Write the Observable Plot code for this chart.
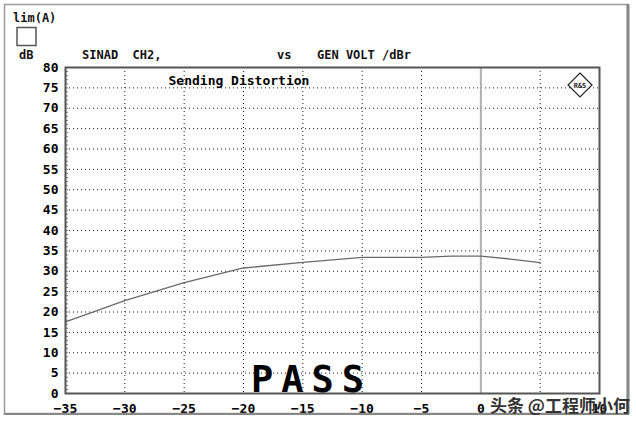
<!DOCTYPE html>
<html><head><meta charset="utf-8">
<script src="https://cdn.jsdelivr.net/npm/d3@7"></script>
<script src="https://cdn.jsdelivr.net/npm/@observablehq/plot@0.6"></script>
<style>body{margin:0;background:#fff}</style></head>
<body><div id="c"></div>
<script>
const genVolt = [-35, -30, -25, -20, -15, -10, -5, -2.5, 0, 2.5, 5];
const sinad   = [17.6, 22.8, 27.2, 30.8, 32.2, 33.4, 33.4, 33.7, 33.7, 33.0, 32.1];
const xGrid = [-35, -30, -25, -20, -15, -10, -5, 0, 5, 10];
const xLabels = [-35, -30, -25, -20, -15, -10, -5, 0, 10];
const yTicks = [0, 5, 10, 15, 20, 25, 30, 35, 40, 45, 50, 55, 60, 65, 70, 75, 80];
const yMinor = d3.range(0, 81, 1);
const plotTitle = ["Sending Distortion"];
const headerLeft = "SINAD  CH2,";
const headerVs = "vs";
const headerRight = "GEN VOLT /dBr";
const limLabel = "lim(A)";
const unitLabel = "dB";
const verdict = "PASS";
const watermark = "头条 @工程师小何";

const data = genVolt.map((x, i) => ({x, y: sinad[i]}));
const mono = "'DejaVu Sans Mono', 'Liberation Mono', monospace";

const plot = Plot.plot({
  width: 636, height: 422,
  marginLeft: 65, marginRight: 37, marginTop: 67, marginBottom: 29,
  style: {fontFamily: mono, fontSize: "13px", fontWeight: "bold", background: "#fff", color: "#000"},
  x: {domain: [-35, 10], ticks: xLabels, tickSize: 0, tickPadding: 10, label: null},
  y: {domain: [0, 80], ticks: yTicks, tickSize: 0, tickPadding: 7, label: null},
  marks: [
    Plot.gridX(xGrid, {stroke: "#000", strokeOpacity: 0.9, strokeDasharray: "1,3"}),
    Plot.gridY(yTicks, {stroke: "#000", strokeOpacity: 0.9, strokeDasharray: "1,3"}),
    Plot.ruleX([0], {stroke: "#b0b0b0", strokeWidth: 2}),
    Plot.ruleY(yMinor, {x1: -35, x2: -34.75, stroke: "#777"}),
    Plot.line(data, {x: "x", y: "y", stroke: "#6a6a6a", strokeWidth: 1.3}),
    Plot.frame({stroke: "#555", strokeWidth: 2}),
    Plot.text(plotTitle, {frameAnchor: "top-left", dx: 103, dy: 8, fontSize: 13, fontFamily: mono, fontWeight: "bold", fill: "#000", textAnchor: "start"})
  ]
});
document.getElementById("c").appendChild(plot);

const svg = d3.select(plot);
const g = svg.append("g").attr("text-anchor", "start");
// outer frame
g.append("rect").attr("x", 4.5).attr("y", 4.5).attr("width", 623).attr("height", 409)
  .attr("fill", "none").attr("stroke", "#999").attr("stroke-width", 1.5);
g.append("line").attr("x1", 628).attr("x2", 628).attr("y1", 4).attr("y2", 415).attr("stroke", "#888").attr("stroke-width", 3);
g.append("line").attr("x1", 4).attr("x2", 629).attr("y1", 414).attr("y2", 414).attr("stroke", "#888").attr("stroke-width", 2);

const txt = (s, x, y, size, anchor = "start") => g.append("text").text(s)
  .attr("x", x).attr("y", y).attr("font-family", mono).attr("font-weight", "bold")
  .attr("font-size", size).attr("text-anchor", anchor).attr("fill", "#111");

txt(limLabel, 13, 22, 12);
g.append("rect").attr("x", 17).attr("y", 27.5).attr("width", 19).attr("height", 18)
  .attr("fill", "#fff").attr("stroke", "#555").attr("stroke-width", 1.5);
txt(unitLabel, 19, 59, 12);
txt(headerLeft, 82, 59, 12);
txt(headerVs, 277, 59, 12);
txt(headerRight, 317, 59, 12);

// R&S logo
const lg = g.append("g").attr("transform", "translate(580,85)");
lg.append("polygon").attr("points", "0,-12 12,0 0,12 -12,0").attr("fill", "#fff").attr("stroke", "#222").attr("stroke-width", 1.2);
lg.append("text").text("R&S").attr("font-family", mono).attr("font-size", 7).attr("text-anchor", "middle")
  .attr("y", 3).attr("fill", "#222");

// PASS
g.append("text").text(verdict).attr("x", 251).attr("y", 392).attr("font-family", mono)
  .attr("text-anchor", "start").attr("font-weight", "bold").attr("font-size", 37)
  .attr("letter-spacing", 8).attr("fill", "#000");

// watermark
g.append("text").text(watermark).attr("x", 490).attr("y", 412).attr("text-anchor", "start")
  .attr("font-family", "'Noto Sans CJK SC', sans-serif").attr("font-size", 17).attr("fill", "#333");
</script>
</body></html>
